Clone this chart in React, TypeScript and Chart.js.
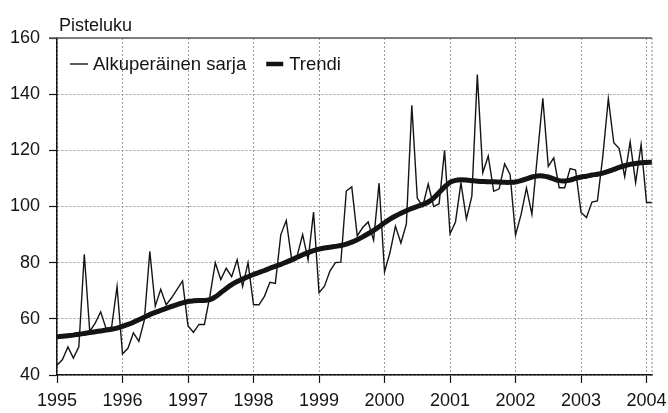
import React, { useEffect, useRef } from "react";
import { Chart, registerables } from "chart.js";

Chart.register(...registerables);

// ---- data ----
const yearLabels = ["1995", "1996", "1997", "1998", "1999", "2000", "2001", "2002", "2003", "2004"];
const monthNames = ["01", "02", "03", "04", "05", "06", "07", "08", "09", "10", "11", "12"];
const lastMonthCount = 110; // Jan 1995 .. Feb 2004

const original = [
  // 1995
  43.5, 45.5, 50, 46, 50, 83, 55.5, 58.5, 62.5, 56.5, 57, 71.5,
  // 1996
  47.5, 49.5, 55, 52, 59.5, 84, 64.5, 70.5, 65, 67.5, 70.5, 73.5,
  // 1997
  57.5, 55.2, 58, 58, 68, 80, 74, 78, 75, 81, 71.5, 80,
  // 1998
  65, 65, 68, 73, 72.6, 90, 95, 81, 82.5, 90, 81, 98,
  // 1999
  69.3, 71.6, 77, 80, 80.2, 105.5, 107, 89.5, 92.5, 94.5, 88, 108.3,
  // 2000
  76.7, 83.6, 93, 87, 93.7, 136, 103, 100, 108, 100, 101, 120,
  // 2001
  90.3, 94.5, 108.4, 95.6, 103.7, 147, 112, 118, 105.4, 106.3, 115.2, 111.4,
  // 2002
  89.8, 97, 106.6, 97.2, 118, 138.5, 114.3, 117.3, 106.7, 106.7, 113.5, 113,
  // 2003
  97.9, 96.1, 101.6, 102, 118, 138.4, 122.7, 120.6, 110.6, 123, 108.5, 122,
  // 2004
  101.4, 101.4,
];

const trend = [
  // 1995
  53.6, 53.8, 54, 54.2, 54.5, 54.8, 55.1, 55.4, 55.7, 56, 56.3, 56.7,
  // 1996
  57.3, 58, 58.8, 59.7, 60.6, 61.5, 62.3, 63, 63.7, 64.4, 65.1, 65.7,
  // 1997
  66.2, 66.4, 66.5, 66.5, 66.8, 67.8, 69.3, 70.8, 72.2, 73.3, 74.2, 75,
  // 1998
  75.8, 76.5, 77.2, 78, 78.7, 79.4, 80.2, 81, 81.9, 82.8, 83.6, 84.3,
  // 1999
  84.8, 85.2, 85.5, 85.8, 86.1, 86.6, 87.3, 88.2, 89.2, 90.3, 91.5, 92.8,
  // 2000
  94.2, 95.5, 96.6, 97.6, 98.5, 99.3, 100, 100.7, 101.6, 103, 105, 107,
  // 2001
  108.6, 109.3, 109.5, 109.4, 109.2, 109, 108.9, 108.8, 108.8, 108.7, 108.6, 108.6,
  // 2002
  108.7, 109.2, 109.8, 110.5, 110.9, 110.9, 110.5, 109.8, 109.2, 109.1, 109.4, 110,
  // 2003
  110.5, 110.8, 111.2, 111.5, 111.9, 112.5, 113.2, 113.9, 114.5, 115, 115.3, 115.6,
  // 2004
  115.7, 115.8,
];

const seriesLabels = ["Alkuperäinen sarja", "Trendi"];
const yAxisTitle = "Pisteluku";
const yMin = 40;
const yMax = 160;
const yStep = 20;

const months: string[] = [];
yearLabels.forEach((y) => monthNames.forEach((m) => months.push(`${y}-${m}`)));
const categories = months.slice(0, lastMonthCount);

const FONT = "'Liberation Sans', Arial, Helvetica, sans-serif";
const INK = "#141414";

const overlayPlugin = {
  id: "overlay",
  afterDraw(chart: any) {
    const { ctx, chartArea: ca } = chart;
    ctx.save();
    // top frame line (solid)
    ctx.strokeStyle = "#5a5a5a";
    ctx.lineWidth = 1.5;
    ctx.beginPath();
    ctx.moveTo(ca.left - 8, ca.top);
    ctx.lineTo(ca.right, ca.top);
    ctx.stroke();
    // right frame line (dotted)
    ctx.strokeStyle = "#8a8a8a";
    ctx.lineWidth = 1;
    ctx.setLineDash([2, 2]);
    ctx.beginPath();
    ctx.moveTo(ca.right, ca.top);
    ctx.lineTo(ca.right, ca.bottom);
    ctx.stroke();
    ctx.setLineDash([]);

    // y axis title
    ctx.fillStyle = INK;
    ctx.font = `18px ${FONT}`;
    ctx.textBaseline = "alphabetic";
    ctx.textAlign = "left";
    ctx.fillText(yAxisTitle, ca.left + 2, ca.top - 7);

    // legend inside plot
    ctx.font = `18.5px ${FONT}`;
    const ly = ca.top + 26;
    const ty = ca.top + 32;
    let x = ca.left + 13;
    // thin sample
    ctx.strokeStyle = INK;
    ctx.lineWidth = 1.4;
    ctx.beginPath();
    ctx.moveTo(x, ly);
    ctx.lineTo(x + 18, ly);
    ctx.stroke();
    x += 23;
    ctx.fillText(seriesLabels[0], x, ty);
    x += ctx.measureText(seriesLabels[0]).width + 20;
    // thick sample
    ctx.lineWidth = 4.5;
    ctx.beginPath();
    ctx.moveTo(x, ly);
    ctx.lineTo(x + 17, ly);
    ctx.stroke();
    x += 23;
    ctx.fillText(seriesLabels[1], x, ty);
    ctx.restore();
  },
};

export default function App() {
  const canvasRef = useRef<HTMLCanvasElement | null>(null);

  useEffect(() => {
    if (!canvasRef.current) return;
    const chart = new Chart(canvasRef.current, {
      type: "line",
      data: {
        labels: categories,
        datasets: [
          {
            label: seriesLabels[1],
            data: trend,
            borderColor: INK,
            borderWidth: 5,
            pointRadius: 0,
            tension: 0.3,
            fill: false,
          },
          {
            label: seriesLabels[0],
            data: original,
            borderColor: INK,
            borderWidth: 1.4,
            pointRadius: 0,
            tension: 0,
            fill: false,
          },
        ],
      },
      options: {
        animation: false,
        responsive: true,
        maintainAspectRatio: false,
        layout: { padding: { left: 0, right: 16, top: 38, bottom: 0 } },
        plugins: {
          legend: { display: false },
          title: { display: false },
          tooltip: { enabled: false },
        },
        scales: {
          x: {
            type: "category",
            offset: false,
            afterFit(scale: any) {
              scale.height = 38;
              scale.paddingLeft = 0;
              scale.paddingRight = 0;
            },
            grid: {
              color: "#9a9a9a",
              lineWidth: 1,
              tickColor: INK,
              tickLength: 8,
              tickWidth: 1.2,
            },
            border: { display: true, color: INK, width: 1.5, dash: [2, 2] },
            ticks: {
              autoSkip: false,
              maxRotation: 0,
              minRotation: 0,
              padding: 7,
              color: INK,
              font: { family: FONT, size: 18 },
              callback: (_v: any, idx: number) =>
                idx % 12 === 0 ? yearLabels[idx / 12] : null,
            },
          },
          y: {
            min: yMin,
            max: yMax,
            afterFit(scale: any) {
              scale.width = 57;
              scale.paddingTop = 0;
              scale.paddingBottom = 0;
            },
            grid: {
              color: "#9a9a9a",
              lineWidth: 1,
              tickColor: INK,
              tickLength: 8,
              tickWidth: 1.2,
            },
            border: { display: true, color: INK, width: 1.5, dash: [2, 2] },
            ticks: {
              stepSize: yStep,
              padding: 9,
              color: INK,
              font: { family: FONT, size: 18 },
              callback: (v: any) => String(v),
            },
          },
        },
      },
      plugins: [overlayPlugin],
    });
    return () => chart.destroy();
  }, []);

  return (
    <div style={{ position: "fixed", left: 0, top: 0, width: 668, height: 413, background: "#fff" }}>
      <canvas ref={canvasRef} />
    </div>
  );
}
